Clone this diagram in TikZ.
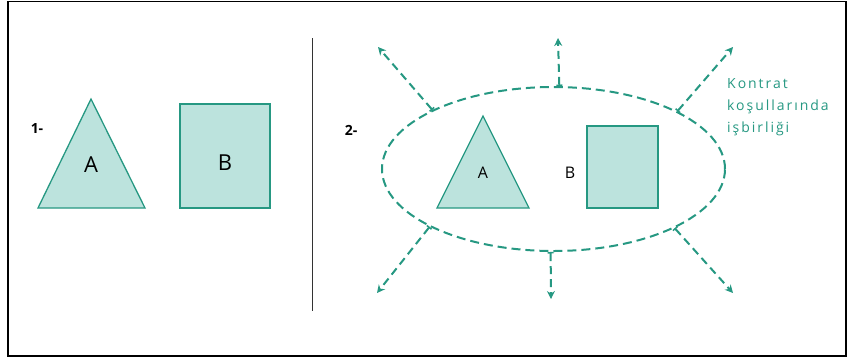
\documentclass[tikz,border=0pt]{standalone}
\usepackage{fontspec}
\setmainfont{Open Sans}
\usetikzlibrary{arrows.meta,shapes.geometric}
\definecolor{tealline}{RGB}{38,152,130}
\definecolor{tealfill}{RGB}{188,227,221}
\begin{document}
\begin{tikzpicture}[x=1pt, y=-1pt, >=Stealth,
		shp/.style={draw=tealline, fill=tealfill, line width=1.3pt},
		lbl/.style={font=\fontsize{22}{24}\selectfont},
		num/.style={font=\bfseries\fontsize{14}{16}\selectfont},
		outarrow/.style={draw=tealline, line width=2pt, dash pattern=on 8pt off 5pt,
			{Bar[width=6pt,line width=1.5pt]}-{Stealth[length=8pt,width=8pt]}}]
			\useasboundingbox (0,0) rectangle (850,360);
			\draw[line width=1.6pt] (8,1.5) rectangle (846,356);
			\draw[black!80, line width=0.8pt] (312,38) -- (312,311);
			\node[num] (n1) at (37,128) {1-};
			\draw[shp] (91,99) -- (38,208) -- (145,208) -- cycle;
			\node[lbl] (a1) at (91,165) {A};
			\draw[shp] (180,104) rectangle (270,208);
			\node[lbl] (b1) at (225,163) {B};
			\node[num] (n2) at (351,130) {2-};
			\node[ellipse, draw=tealline, line width=2pt, dash pattern=on 9pt off 5pt,
				minimum width=343pt, minimum height=164pt, inner sep=0pt] (e) at (553.5,169) {};
			\draw[shp] (483,116) -- (437,208) -- (529,208) -- cycle;
			\node[lbl, font=\fontsize{16}{18}\selectfont] (a2) at (483,173) {A};
			\node[lbl, font=\fontsize{16}{18}\selectfont] (b2) at (570,173) {B};
			\draw[shp] (587,126) rectangle (658,208);
			\coordinate (t1) at (378,47);
			\coordinate (t2) at (558,38);
			\coordinate (t3) at (733,47);
			\coordinate (t4) at (377,293);
			\coordinate (t5) at (551,299);
			\coordinate (t6) at (733,293);
			\draw[outarrow] (e.154.5) -- (t1);
			\draw[outarrow] (e.86.9) -- (t2);
			\draw[outarrow] (e.25.5) -- (t3);
			\draw[outarrow] (e.205.5) -- (t4);
			\draw[outarrow] (e.268.3) -- (t5);
			\draw[outarrow] (e.334.5) -- (t6);
			\node[anchor=north west, align=left, text=tealline, inner sep=0pt,
				font=\addfontfeatures{LetterSpace=14}\fontsize{14}{22}\selectfont] (kt) at (727,78)
				{Kontrat\\koşullarında\\işbirliği};
		\end{tikzpicture}
\end{document}
